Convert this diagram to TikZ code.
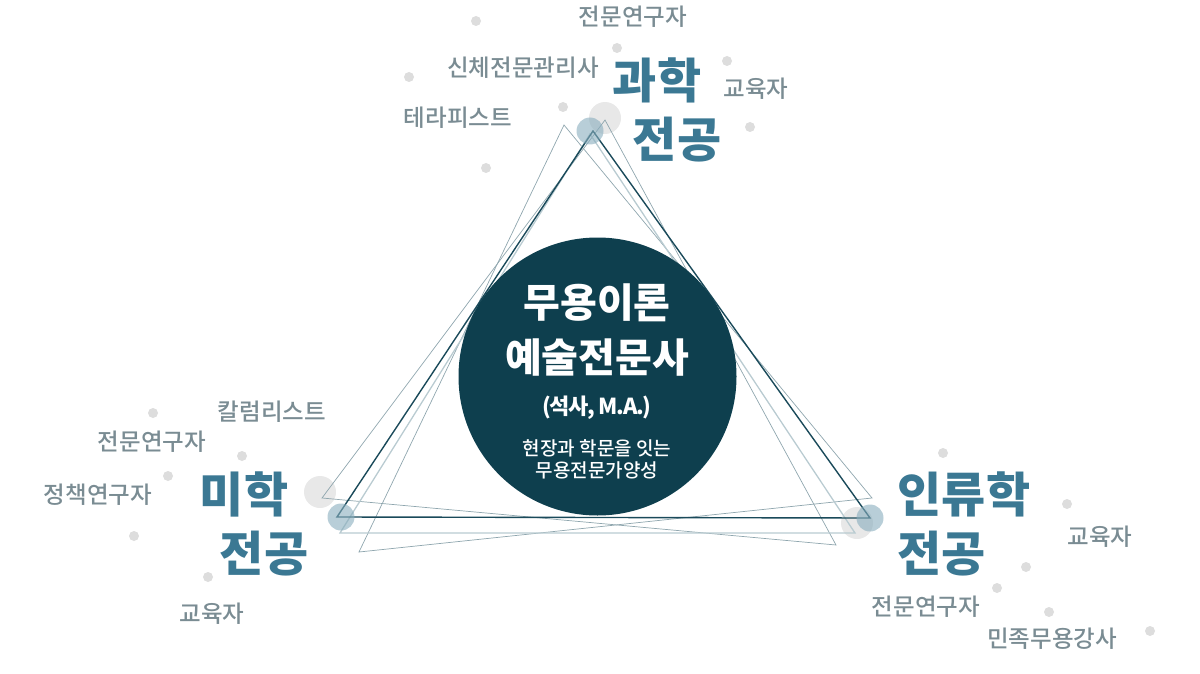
\documentclass[tikz,border=0pt]{standalone}
\usepackage{fontspec}
\setmainfont{Noto Sans CJK KR}
\newfontfamily\krmedium{Noto Sans CJK KR Medium}
\usepackage{xcolor}
\usetikzlibrary{positioning}

\definecolor{hubteal}{HTML}{0E3F4E}
\definecolor{majorblue}{HTML}{3B7893}
\definecolor{rolegray}{HTML}{7A8C93}
\definecolor{dotgray}{HTML}{DDDDDD}
\definecolor{edgegray}{HTML}{8FA6AE}
\definecolor{edgepale}{HTML}{B9CBD1}
\definecolor{edgedark}{HTML}{1A4A5A}

\begin{document}
\begin{tikzpicture}[
  x=1pt, y=-1pt,
  hub/.style={circle, fill=hubteal, inner sep=0pt, minimum size=278pt},
  hubtext/.style={text=white, align=center, inner sep=0pt},
  major/.style={text=majorblue, align=left, inner sep=0pt, font=\bfseries\fontsize{48}{59}\selectfont},
  role/.style={text=rolegray, inner sep=0pt, font=\krmedium\fontsize{23.5}{24}\selectfont},
  graydot/.style={circle, fill=dotgray, inner sep=0pt, minimum size=10pt},
  halo/.style={circle, fill=black!10, opacity=.9, inner sep=0pt, minimum size=32pt},
  knot/.style={circle, fill=majorblue!60, opacity=.6, inner sep=0pt, minimum size=27pt},
  thinedge/.style={draw=edgegray, line width=.7pt, line join=miter},
  paleedge/.style={draw=edgepale, line width=1.3pt, line join=miter},
  darkedge/.style={draw=edgedark, line width=1.4pt, line join=miter}
]
  \useasboundingbox (0,0) rectangle (1200,674);

  % triangle corners
  \coordinate (aT) at (605,120); \coordinate (aL) at (322,498); \coordinate (aR) at (836,545);
  \coordinate (bT) at (564,125); \coordinate (bL) at (359,552); \coordinate (bR) at (872,498);
  \coordinate (cT) at (590,134); \coordinate (cL) at (340,533); \coordinate (cR) at (855,533);
  \coordinate (dT) at (593,131); \coordinate (dL) at (337,517); \coordinate (dR) at (870,518);

  % soft circles behind the corners
  \node[halo] (haloT) at (605,118) {};
  \node[halo] (haloL) at (320,492) {};
  \node[halo] (haloR) at (857,523) {};

  % scattered dots
  \foreach \px/\py [count=\i] in {476/21, 617/48, 727/61, 409/77, 563/107, 750/127, 486/168,
      153/413, 242/456, 168/476, 134/536, 208/577,
      943/453, 1067/504, 1026/567, 997/588, 1049/612, 1150/631}
    \node[graydot] (dot\i) at (\px,\py) {};

  % triangles
  \draw[thinedge] (aT) -- (aL) -- (aR) -- cycle;
  \draw[thinedge] (bT) -- (bL) -- (bR) -- cycle;
  \draw[paleedge] (cT) -- (cL) -- (cR) -- cycle;
  \draw[darkedge] (dT) -- (dL) -- (dR) -- cycle;

  \node[knot] (knotT) at (590,131) {};
  \node[knot] (knotL) at (341,517) {};
  \node[knot] (knotR) at (870,518) {};

  % centre circle
  \node[hub] (hub) at (597.5,376.5) {};
  \node[hubtext, font=\bfseries\fontsize{40}{55}\selectfont] (title) at (597,330) {무용이론\\예술전문사};
  \node[hubtext, font=\bfseries\fontsize{22}{22}\selectfont\addfontfeatures{LetterSpace=-6}] (degree) at (597,408) {(석사,\,M.A.)};
  \node[hubtext, font=\krmedium\fontsize{19}{22}\selectfont] (motto) at (597,459) {현장과 학문을 잇는\\무용전문가양성};

  % majors
  \node[major] (science) at (667,110) {과학\\\hspace*{20pt}전공};
  \node[major] (aesthetics) at (254,524) {미학\\\hspace*{20pt}전공};
  \node[major] (anthro) at (964,524) {인류학\\전공};

  % roles around science
  \node[role] (sciResearch) at (633,17) {전문연구자};
  \node[role] (sciBody) at (523,68) {신체전문관리사};
  \node[role] (sciEdu) at (756,89) {교육자};
  \node[role] (sciTherapy) at (458,118) {테라피스트};

  % roles around aesthetics
  \node[role] (aesColumn) at (272,412) {칼럼리스트};
  \node[role] (aesResearch) at (152,442) {전문연구자};
  \node[role] (aesPolicy) at (98,495) {정책연구자};
  \node[role] (aesEdu) at (212,614) {교육자};

  % roles around anthropology
  \node[role] (antEdu) at (1100,537) {교육자};
  \node[role] (antResearch) at (926,607) {전문연구자};
  \node[role] (antFolk) at (1052,639) {민족무용강사};
\end{tikzpicture}
\end{document}
